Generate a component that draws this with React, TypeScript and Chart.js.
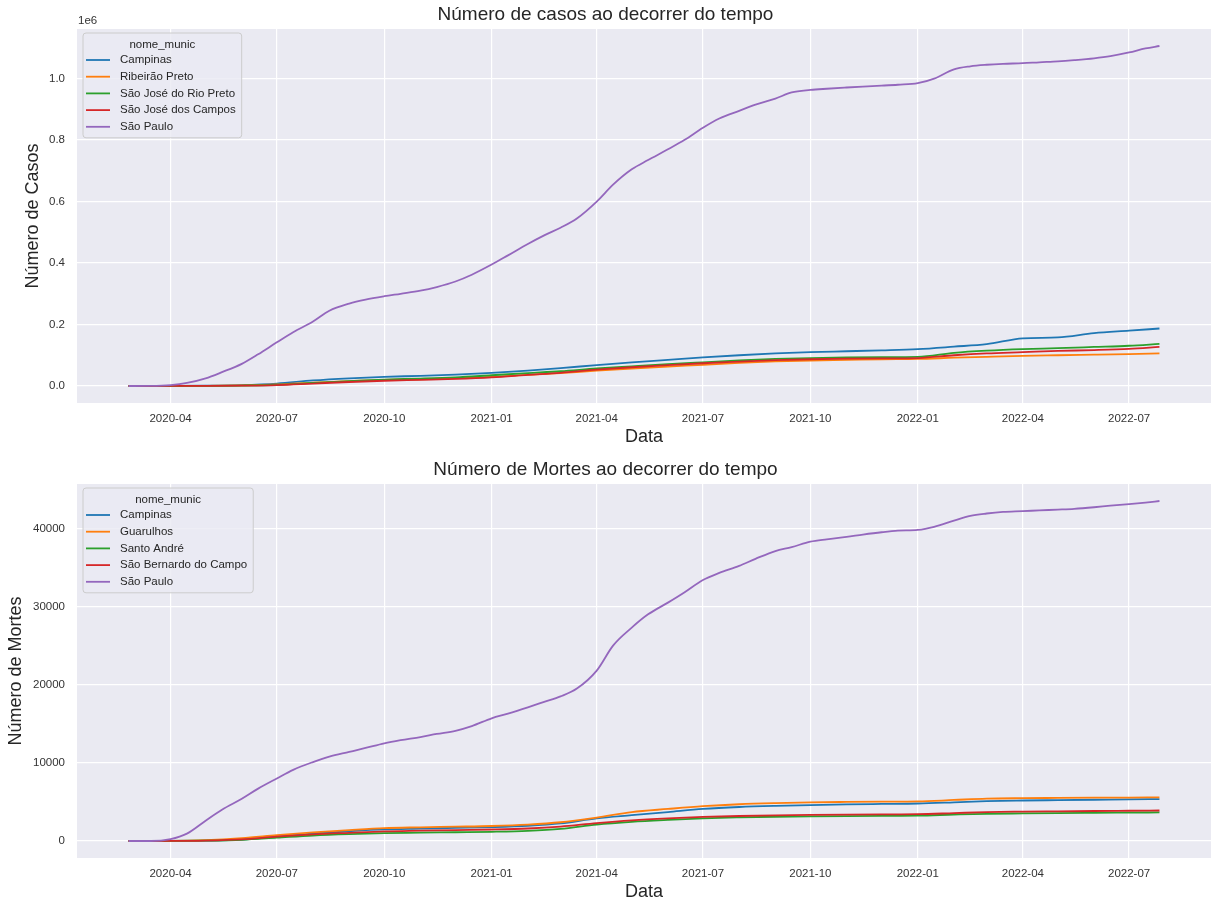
import { useEffect, useRef } from 'react';
import { Chart, registerables } from 'chart.js';

Chart.register(...registerables);

// ---- data ----------------------------------------------------------------

// Monthly sampling dates used by the smaller municipalities
const MONTH_DATES = [
  '2020-02-25', '2020-04-01', '2020-05-01', '2020-06-01', '2020-07-01', '2020-08-01',
  '2020-09-01', '2020-10-01', '2020-11-01', '2020-12-01',
  '2021-01-01', '2021-02-01', '2021-03-01', '2021-04-01', '2021-05-01', '2021-06-01',
  '2021-07-01', '2021-08-01', '2021-09-01', '2021-10-01', '2021-11-01', '2021-12-01',
  '2022-01-01', '2022-02-01', '2022-03-01', '2022-04-01', '2022-05-01', '2022-06-01',
  '2022-07-01', '2022-07-27',
];

// Twice-monthly sampling dates for São Paulo
const SP_DATES = [
  '2020-02-25', '2020-03-15', '2020-04-01', '2020-04-15', '2020-05-01', '2020-05-15',
  '2020-06-01', '2020-06-15', '2020-07-01', '2020-07-15', '2020-08-01', '2020-08-15',
  '2020-09-01', '2020-09-15', '2020-10-01', '2020-10-15', '2020-11-01', '2020-11-15',
  '2020-12-01', '2020-12-15',
  '2021-01-01', '2021-01-15', '2021-02-01', '2021-02-15', '2021-03-01', '2021-03-15',
  '2021-04-01', '2021-04-15', '2021-05-01', '2021-05-15', '2021-06-01', '2021-06-15',
  '2021-07-01', '2021-07-15', '2021-08-01', '2021-08-15', '2021-09-01', '2021-09-15',
  '2021-10-01', '2021-10-15', '2021-11-01', '2021-11-15', '2021-12-01', '2021-12-15',
  '2022-01-01', '2022-01-15', '2022-02-01', '2022-02-15', '2022-03-01', '2022-03-15',
  '2022-04-01', '2022-04-15', '2022-05-01', '2022-05-15', '2022-06-01', '2022-06-15',
  '2022-07-01', '2022-07-15', '2022-07-27',
];

// Cumulative cases
const CASES_CAMPINAS = [
  0, 300, 1000, 3000, 8000, 18000, 25000, 30000, 33000, 37000,
  43000, 50000, 58000, 68000, 77000, 85000, 93000, 100000, 106000, 110000, 113000, 116000,
  120000, 128000, 136000, 155000, 158000, 172000, 180000, 187000,
];
const CASES_RIBEIRAO = [
  0, 100, 500, 2000, 5000, 11000, 16000, 20000, 22000, 25000,
  30000, 36000, 42000, 50000, 57000, 63000, 69000, 75000, 80000, 83000, 85000, 87000,
  88000, 92000, 95000, 98000, 100000, 102000, 104000, 106000,
];
const CASES_RIO_PRETO = [
  0, 100, 400, 1500, 4000, 10000, 16000, 21000, 24000, 28000,
  35000, 42000, 48000, 57000, 64000, 71000, 77000, 83000, 88000, 91000, 93000, 94000,
  95000, 108000, 115000, 120000, 123000, 127000, 131000, 137000,
];
const CASES_SJ_CAMPOS = [
  0, 100, 400, 1200, 3000, 8000, 13000, 17000, 20000, 23000,
  28000, 36000, 43000, 53000, 61000, 68000, 74000, 79000, 84000, 87000, 89000, 90000,
  91000, 100000, 106000, 110000, 114000, 117000, 121000, 127000,
];
const CASES_SAO_PAULO = [
  0, 300, 3000, 10000, 25000, 45000, 72000, 103000, 142000, 175000, 210000, 245000,
  268000, 281000, 292000, 300000, 310000, 322000, 340000, 362000,
  395000, 425000, 462000, 490000, 515000, 545000, 600000, 655000, 705000, 735000,
  770000, 800000, 840000, 870000, 895000, 915000, 935000, 955000, 963000, 967000,
  971000, 974000, 977000, 980000,
  985000, 1000000, 1030000, 1040000, 1045000, 1048000, 1050000, 1053000, 1056000,
  1060000, 1066000, 1073000, 1085000, 1098000, 1106000,
];

// Cumulative deaths
const DEATHS_CAMPINAS = [
  0, 5, 50, 180, 550, 950, 1250, 1480, 1580, 1680,
  1780, 1950, 2250, 2900, 3300, 3700, 4100, 4350, 4500, 4600, 4680, 4740,
  4800, 4950, 5100, 5180, 5230, 5280, 5320, 5370,
];
const DEATHS_GUARULHOS = [
  0, 10, 120, 380, 750, 1100, 1400, 1650, 1750, 1830,
  1920, 2100, 2400, 3000, 3700, 4100, 4450, 4700, 4850, 4950, 5000, 5030,
  5060, 5250, 5420, 5480, 5510, 5540, 5560, 5580,
];
const DEATHS_SANTO_ANDRE = [
  0, 5, 40, 150, 420, 700, 880, 1000, 1060, 1120,
  1180, 1300, 1550, 2100, 2450, 2700, 2900, 3020, 3100, 3150, 3190, 3220,
  3250, 3380, 3480, 3530, 3570, 3600, 3630, 3660,
];
const DEATHS_SBC = [
  0, 5, 50, 200, 550, 850, 1050, 1230, 1320, 1400,
  1470, 1600, 1850, 2300, 2650, 2900, 3080, 3200, 3280, 3330, 3370, 3400,
  3430, 3570, 3700, 3760, 3800, 3840, 3870, 3900,
];
const DEATHS_SAO_PAULO = [
  0, 0, 250, 950, 2600, 4000, 5400, 6700, 8000, 9100, 10100, 10800,
  11400, 11900, 12500, 12900, 13300, 13700, 14100, 14700,
  15700, 16300, 17100, 17800, 18500, 19500, 21800, 25000, 27300, 29000,
  30500, 31800, 33400, 34300, 35200, 36100, 37100, 37600, 38300, 38600,
  38900, 39200, 39500, 39700,
  39800, 40200, 41000, 41600, 41900, 42100, 42200, 42300, 42400, 42500,
  42700, 42900, 43100, 43300, 43500,
];

const CASES_LABELS = ['Campinas', 'Ribeirão Preto', 'São José do Rio Preto', 'São José dos Campos', 'São Paulo'];
const DEATHS_LABELS = ['Campinas', 'Guarulhos', 'Santo André', 'São Bernardo do Campo', 'São Paulo'];
const COLORS = ['#1f77b4', '#ff7f0e', '#2ca02c', '#d62728', '#9467bd'];

const X_TICK_DATES = [
  '2020-04-01', '2020-07-01', '2020-10-01', '2021-01-01', '2021-04-01',
  '2021-07-01', '2021-10-01', '2022-01-01', '2022-04-01', '2022-07-01',
];
const CASES_Y_TICKS = [0, 200000, 400000, 600000, 800000, 1000000];
const DEATHS_Y_TICKS = [0, 10000, 20000, 30000, 40000];

// ---- helpers -------------------------------------------------------------

const FONT = '"Liberation Sans", Arial, Helvetica, sans-serif';
const TEXT = '#262626';
const TICK_TEXT = '#333333';
const AXES_BG = '#EAEAF2';

const toTime = (s: string) => {
  const [y, m, d] = s.split('-').map(Number);
  return Date.UTC(y, m - 1, d);
};

const fmtMonth = (v: number) => {
  const d = new Date(v);
  return `${d.getUTCFullYear()}-${String(d.getUTCMonth() + 1).padStart(2, '0')}`;
};

const series = (dates: string[], values: number[]) =>
  dates.map((d, i) => ({ x: toTime(d), y: values[i] }));

// Axes background, legend box with title, and optional offset text
const panelPlugin = {
  id: 'panel',
  beforeDraw(chart: any) {
    const { ctx, chartArea: a } = chart;
    ctx.save();
    ctx.fillStyle = AXES_BG;
    ctx.fillRect(a.left, a.top, a.right - a.left, a.bottom - a.top);
    ctx.restore();
  },
  afterDraw(chart: any, _args: any, opts: any) {
    const { ctx, chartArea: a } = chart;
    const fs = 11.5;
    ctx.save();
    ctx.font = `${fs}px ${FONT}`;
    ctx.textBaseline = 'middle';

    if (opts.offsetText) {
      ctx.fillStyle = TICK_TEXT;
      ctx.textAlign = 'left';
      ctx.fillText(opts.offsetText, a.left + 1, a.top - 8);
    }

    const labels: string[] = chart.data.datasets.map((d: any) => d.label);
    const title: string = opts.legendTitle;
    let maxW = 0;
    labels.forEach((l) => { maxW = Math.max(maxW, ctx.measureText(l).width); });
    const boxX = a.left + 6;
    const boxY = a.top + 4;
    const textX = boxX + 37;
    const boxW = Math.max(textX + maxW + 6 - boxX, ctx.measureText(title).width + 16);
    const rowH = 16.7;
    const boxH = 27 + rowH * (labels.length - 1) + 11;

    ctx.globalAlpha = 0.8;
    ctx.fillStyle = AXES_BG;
    ctx.beginPath();
    if ((ctx as any).roundRect) (ctx as any).roundRect(boxX, boxY, boxW, boxH, 3);
    else ctx.rect(boxX, boxY, boxW, boxH);
    ctx.fill();
    ctx.globalAlpha = 1;
    ctx.strokeStyle = '#cccccc';
    ctx.lineWidth = 1;
    ctx.stroke();

    ctx.fillStyle = TEXT;
    ctx.textAlign = 'center';
    ctx.fillText(title, boxX + boxW / 2, boxY + 12);

    ctx.textAlign = 'left';
    chart.data.datasets.forEach((d: any, i: number) => {
      const y = boxY + 27 + i * rowH;
      ctx.strokeStyle = d.borderColor;
      ctx.lineWidth = 1.8;
      ctx.beginPath();
      ctx.moveTo(boxX + 3, y);
      ctx.lineTo(boxX + 27, y);
      ctx.stroke();
      ctx.fillStyle = TEXT;
      ctx.fillText(d.label, textX, y);
    });
    ctx.restore();
  },
};

type PanelSpec = {
  title: string;
  yTitle: string;
  yTitlePad: number;
  yTicks: number[];
  yFormat: (v: number) => string;
  offsetText?: string;
  labels: string[];
  data: { x: number; y: number }[][];
};

function buildChart(canvas: HTMLCanvasElement, spec: PanelSpec) {
  const allX = spec.data.flat().map((p) => p.x);
  const allY = spec.data.flat().map((p) => p.y);
  const t0 = Math.min(...allX);
  const t1 = Math.max(...allX);
  const xSpan = t1 - t0;
  const yMin = Math.min(...allY);
  const yMax = Math.max(...allY);
  const ySpan = yMax - yMin;

  const gridOpts = { color: '#ffffff', lineWidth: 1.2, drawTicks: false };

  return new Chart(canvas, {
    type: 'line',
    data: {
      datasets: spec.data.map((pts, i) => ({
        label: spec.labels[i],
        data: pts,
        borderColor: COLORS[i],
        backgroundColor: COLORS[i],
        borderWidth: 1.8,
        pointRadius: 0,
        fill: false,
        cubicInterpolationMode: 'monotone' as const,
        order: spec.data.length - 1 - i,
      })),
    },
    options: {
      responsive: false,
      maintainAspectRatio: false,
      devicePixelRatio: 1,
      animation: false,
      events: [],
      layout: { padding: { top: 0, left: 0, right: 0, bottom: 0 } },
      font: { family: FONT },
      plugins: {
        legend: { display: false },
        tooltip: { enabled: false },
        title: {
          display: true,
          text: spec.title,
          color: TEXT,
          font: { family: FONT, size: 19, weight: 'normal' as const },
          padding: { top: 3.6, bottom: 2.6 },
        },
        panel: { legendTitle: 'nome_munic', offsetText: spec.offsetText },
      } as any,
      scales: {
        x: {
          type: 'linear',
          min: t0 - 0.05 * xSpan,
          max: t1 + 0.05 * xSpan,
          afterBuildTicks: (s: any) => {
            s.ticks = X_TICK_DATES.map((d) => ({ value: toTime(d) }));
          },
          afterFit: (s: any) => { s.height = 52; },
          grid: gridOpts,
          border: { display: false },
          ticks: {
            padding: 9,
            color: TICK_TEXT,
            font: { family: FONT, size: 11.5 },
            maxRotation: 0,
            autoSkip: false,
            callback: (v: any) => fmtMonth(Number(v)),
          },
          title: {
            display: true,
            text: 'Data',
            color: TEXT,
            font: { family: FONT, size: 18 },
            padding: { top: 0, bottom: 7 },
          },
        },
        y: {
          type: 'linear',
          min: yMin - 0.05 * ySpan,
          max: yMax + 0.05 * ySpan,
          afterBuildTicks: (s: any) => {
            s.ticks = spec.yTicks.map((v) => ({ value: v }));
          },
          afterFit: (s: any) => { s.width = 77; },
          grid: gridOpts,
          border: { display: false },
          ticks: {
            padding: 12,
            color: TICK_TEXT,
            font: { family: FONT, size: 11.5 },
            callback: (v: any) => spec.yFormat(Number(v)),
          },
          title: {
            display: true,
            text: spec.yTitle,
            color: TEXT,
            font: { family: FONT, size: 18 },
            padding: { top: spec.yTitlePad, bottom: 0 },
          },
        },
      },
    } as any,
    plugins: [panelPlugin],
  });
}

const W = 1211;
const H = 455;

export default function App() {
  const casesRef = useRef<HTMLCanvasElement>(null);
  const deathsRef = useRef<HTMLCanvasElement>(null);

  useEffect(() => {
    const c1 = buildChart(casesRef.current!, {
      title: 'Número de casos ao decorrer do tempo',
      yTitle: 'Número de Casos',
      yTitlePad: 22,
      yTicks: CASES_Y_TICKS,
      yFormat: (v) => (v / 1e6).toFixed(1),
      offsetText: '1e6',
      labels: CASES_LABELS,
      data: [
        series(MONTH_DATES, CASES_CAMPINAS),
        series(MONTH_DATES, CASES_RIBEIRAO),
        series(MONTH_DATES, CASES_RIO_PRETO),
        series(MONTH_DATES, CASES_SJ_CAMPOS),
        series(SP_DATES, CASES_SAO_PAULO),
      ],
    });
    const c2 = buildChart(deathsRef.current!, {
      title: 'Número de Mortes ao decorrer do tempo',
      yTitle: 'Número de Mortes',
      yTitlePad: 5,
      yTicks: DEATHS_Y_TICKS,
      yFormat: (v) => String(Math.round(v)),
      labels: DEATHS_LABELS,
      data: [
        series(MONTH_DATES, DEATHS_CAMPINAS),
        series(MONTH_DATES, DEATHS_GUARULHOS),
        series(MONTH_DATES, DEATHS_SANTO_ANDRE),
        series(MONTH_DATES, DEATHS_SBC),
        series(SP_DATES, DEATHS_SAO_PAULO),
      ],
    });
    return () => {
      c1.destroy();
      c2.destroy();
    };
  }, []);

  const canvasStyle = (top: number): React.CSSProperties => ({
    position: 'absolute',
    left: 0,
    top,
    width: W,
    height: H,
    display: 'block',
  });

  return (
    <div
      style={{
        position: 'fixed',
        left: 0,
        top: 0,
        width: W,
        height: 899,
        overflow: 'hidden',
        background: '#ffffff',
      }}
    >
      <canvas ref={casesRef} width={W} height={H} style={canvasStyle(0)} />
      <canvas ref={deathsRef} width={W} height={H} style={canvasStyle(455)} />
    </div>
  );
}
